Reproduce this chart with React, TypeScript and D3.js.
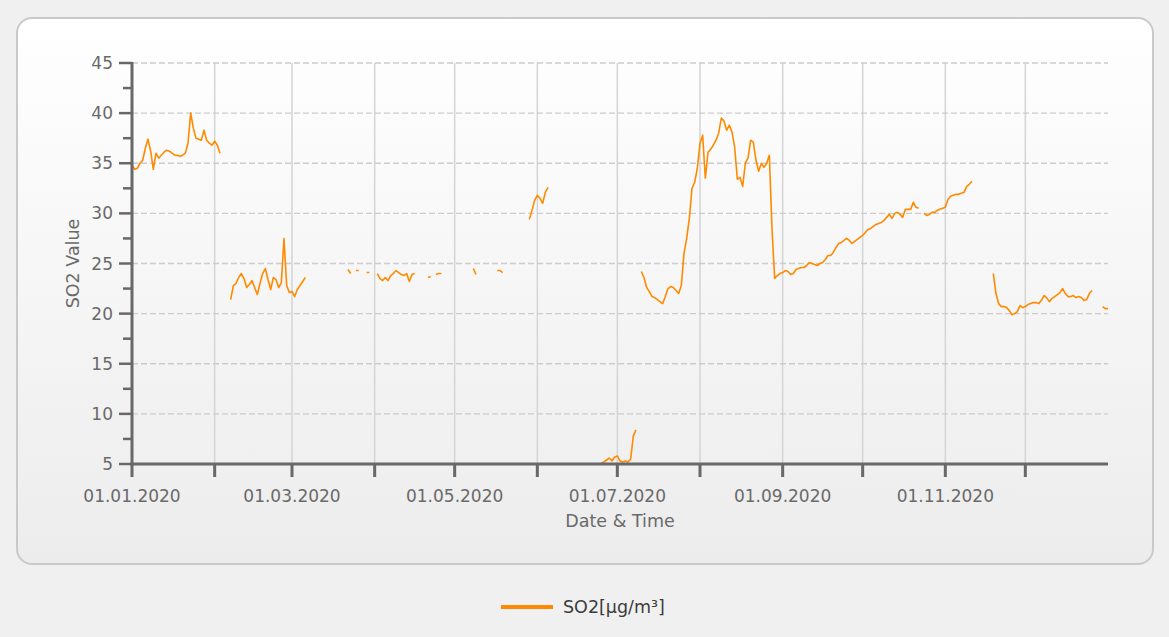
import React from "react";
import * as d3 from "d3";

// ---- Data (daily SO2 values, segments separated by missing data) ----
const segmentStarts = [
  "2020-01-01", "2020-02-07", "2020-03-22", "2020-03-25", "2020-03-29",
  "2020-04-02", "2020-04-21", "2020-04-24", "2020-05-08", "2020-05-17",
  "2020-05-29", "2020-06-25", "2020-07-10", "2020-10-24", "2020-11-19",
  "2020-12-30",
];

const janValues = [34.8, 34.4, 34.5, 35.0, 35.3, 36.5, 37.4, 36.2, 34.4, 36.0, 35.5, 35.8, 36.1, 36.3, 36.2, 36.0, 35.8, 35.8, 35.7, 35.8, 36.0, 37.0, 40.0, 38.5, 37.5, 37.4, 37.3, 38.3, 37.3, 37.0, 36.8, 37.2, 36.8, 36.0];
const febValues = [21.4, 22.8, 23.0, 23.6, 24.0, 23.5, 22.6, 22.9, 23.3, 22.6, 21.9, 23.0, 24.0, 24.5, 23.4, 22.4, 23.6, 23.4, 22.6, 23.1, 27.5, 22.8, 22.1, 22.2, 21.7, 22.4, 22.8, 23.2, 23.6];
const marFragA = [24.4, 24.0];
const marFragB = [24.3, 24.3];
const marFragC = [24.1, 24.1];
const aprValues = [24.0, 23.5, 23.3, 23.6, 23.3, 23.8, 24.0, 24.3, 24.1, 23.9, 23.8, 24.0, 23.2, 23.9, 24.0];
const aprFragA = [23.6, 23.7];
const aprFragB = [23.9, 24.0, 24.0];
const mayFragA = [24.5, 23.9];
const mayFragB = [24.3, 24.3, 24.1];
const mayEndValues = [29.4, 30.3, 31.3, 31.8, 31.5, 31.0, 32.1, 32.6];
const junValues = [5.1, 5.2, 5.4, 5.6, 5.3, 5.7, 5.8, 5.3, 5.2, 5.3, 5.2, 5.5, 7.8, 8.4];
const summerValues = [
  24.2, 23.6, 22.6, 22.2, 21.7, 21.6, 21.4, 21.2, 21.0, 21.7,
  22.5, 22.7, 22.6, 22.3, 22.0, 22.8, 26.0, 27.5, 29.5, 32.5,
  33.1, 34.5, 37.0, 37.8, 33.5, 36.1, 36.4, 36.8, 37.3, 38.0,
  39.5, 39.2, 38.3, 38.8, 38.1, 36.6, 33.4, 33.6, 32.7, 35.0,
  35.5, 37.3, 37.1, 35.3, 34.2, 35.0, 34.6, 35.0, 35.8, 28.5,
  23.5, 23.8, 24.0, 24.1, 24.3, 24.2, 23.9, 24.0, 24.4, 24.5,
  24.6, 24.6, 24.8, 25.1, 25.0, 24.9, 24.8, 25.0, 25.1, 25.4,
  25.8, 25.8, 26.1, 26.6, 27.0, 27.1, 27.3, 27.5, 27.3, 27.0,
  27.2, 27.4, 27.6, 27.8, 28.1, 28.4, 28.5, 28.7, 28.9, 29.0,
  29.1, 29.3, 29.6, 29.9, 29.5, 30.0, 30.1, 29.9, 29.6, 30.4,
  30.4, 30.4, 31.1, 30.6, 30.5,
];
const octValues = [30.0, 29.8, 29.9, 30.1, 30.1, 30.3, 30.4, 30.5, 30.6, 31.4, 31.7, 31.8, 31.9, 31.9, 32.0, 32.1, 32.7, 32.9, 33.2];
const novValues = [24.0, 22.0, 21.0, 20.7, 20.7, 20.6, 20.3, 19.9, 20.0, 20.2, 20.8, 20.6, 20.7, 20.9, 21.0, 21.1, 21.1, 21.0, 21.3, 21.8, 21.6, 21.2, 21.5, 21.7, 21.9, 22.1, 22.5, 22.0, 21.7, 21.7, 21.8, 21.6, 21.7, 21.6, 21.3, 21.4, 22.0, 22.3];
const decEndValues = [20.7, 20.5, 20.5];

const segmentValues = [
  janValues, febValues, marFragA, marFragB, marFragC, aprValues, aprFragA, aprFragB,
  mayFragA, mayFragB, mayEndValues, junValues, summerValues, octValues, novValues, decEndValues,
];

const yTicks = [5, 10, 15, 20, 25, 30, 35, 40, 45];
const xLabelMonths = ["2020-01-01", "2020-03-01", "2020-05-01", "2020-07-01", "2020-09-01", "2020-11-01"];
const seriesName = "SO2[µg/m³]";
const xTitle = "Date & Time";
const yTitle = "SO2 Value";

const W = 1169;
const H = 637;
const FONT = "'DejaVu Sans', Verdana, sans-serif";

export default function App() {
  const parse = d3.timeParse("%Y-%m-%d");
  const fmt = d3.timeFormat("%d.%m.%Y");
  const x = d3.scaleTime().domain([new Date(2020, 0, 1), new Date(2021, 0, 1)]).range([132, 1108]);
  const y = d3.scaleLinear().domain([5, 45]).range([464, 63]);

  type P = { t: Date; v: number | null };
  const points: P[] = [];
  segmentStarts.forEach((s, i) => {
    const start = parse(s) as Date;
    segmentValues[i].forEach((v, k) => {
      points.push({ t: d3.timeDay.offset(start, k), v });
    });
    points.push({ t: d3.timeDay.offset(start, segmentValues[i].length), v: null });
  });

  const line = d3
    .line<P>()
    .defined((d) => d.v !== null)
    .x((d) => x(d.t))
    .y((d) => y(d.v as number));

  const months = d3.timeMonth.range(new Date(2020, 0, 1), new Date(2021, 0, 1));
  const minorY = d3.range(7.5, 45, 5);
  const [x0, x1] = x.range();
  const [yb, yt] = y.range();
  const axisColor = "#686868";
  const textColor = "#6a6a6a";

  return (
    <svg width={W} height={H} style={{ position: "absolute", left: 0, top: 0 }} fontFamily={FONT}>
      <defs>
        <linearGradient id="panelGrad" x1="0" y1="0" x2="0" y2="1">
          <stop offset="0" stopColor="#ffffff" />
          <stop offset="0.85" stopColor="#efefef" />
          <stop offset="1" stopColor="#ececec" />
        </linearGradient>
      </defs>
      <rect x={0} y={0} width={W} height={H} fill="#f0f0f0" />
      <rect x={17} y={18} width={1136} height={546} rx={15} ry={15} fill="url(#panelGrad)" stroke="#c9c9c9" strokeWidth={2} />

      {/* vertical grid */}
      {months.map((m, i) => (
        <line key={"vg" + i} x1={x(m)} x2={x(m)} y1={yt} y2={yb} stroke="#d6d6d6" strokeWidth={1.6} />
      ))}
      {/* horizontal dashed grid */}
      {yTicks.filter((t) => t > 5).map((t) => (
        <line key={"hg" + t} x1={x0} x2={x1} y1={y(t)} y2={y(t)} stroke="#cccccc" strokeWidth={1.4} strokeDasharray="6,3" />
      ))}

      {/* series */}
      <path d={line(points) || ""} fill="none" stroke="#ff8a00" strokeWidth={1.6} strokeLinejoin="round" />

      {/* y axis */}
      <line x1={x0} x2={x0} y1={yt - 1} y2={yb + 1.5} stroke={axisColor} strokeWidth={3} />
      {yTicks.map((t) => (
        <line key={"yt" + t} x1={x0 - 13} x2={x0} y1={y(t)} y2={y(t)} stroke={axisColor} strokeWidth={2.5} />
      ))}
      {minorY.map((t) => (
        <line key={"ym" + t} x1={x0 - 9} x2={x0} y1={y(t)} y2={y(t)} stroke={axisColor} strokeWidth={2.5} />
      ))}
      {yTicks.map((t) => (
        <text key={"yl" + t} x={113} y={y(t)} dy="0.36em" textAnchor="end" fontSize={17} fill={textColor}>
          {t}
        </text>
      ))}

      {/* x axis */}
      <line x1={x0 - 1.5} x2={x1} y1={yb} y2={yb} stroke={axisColor} strokeWidth={3} />
      {months.map((m, i) => (
        <line key={"xt" + i} x1={x(m)} x2={x(m)} y1={yb} y2={yb + 13} stroke={axisColor} strokeWidth={3} />
      ))}
      {xLabelMonths.map((s) => {
        const d = parse(s) as Date;
        return (
          <text key={"xl" + s} x={x(d)} y={502} textAnchor="middle" fontSize={17} fill={textColor}>
            {fmt(d)}
          </text>
        );
      })}

      {/* axis titles */}
      <text x={(x0 + x1) / 2} y={527} textAnchor="middle" fontSize={17.5} fill={textColor}>
        {xTitle}
      </text>
      <text transform={`translate(79, ${(yt + yb) / 2}) rotate(-90)`} textAnchor="middle" fontSize={17.5} fill={textColor}>
        {yTitle}
      </text>

      {/* legend */}
      <line x1={501} x2={553} y1={607} y2={607} stroke="#ff8a00" strokeWidth={4} />
      <text x={563} y={613} fontSize={17.5} fill="#3c3c3c">
        {seriesName}
      </text>
    </svg>
  );
}
